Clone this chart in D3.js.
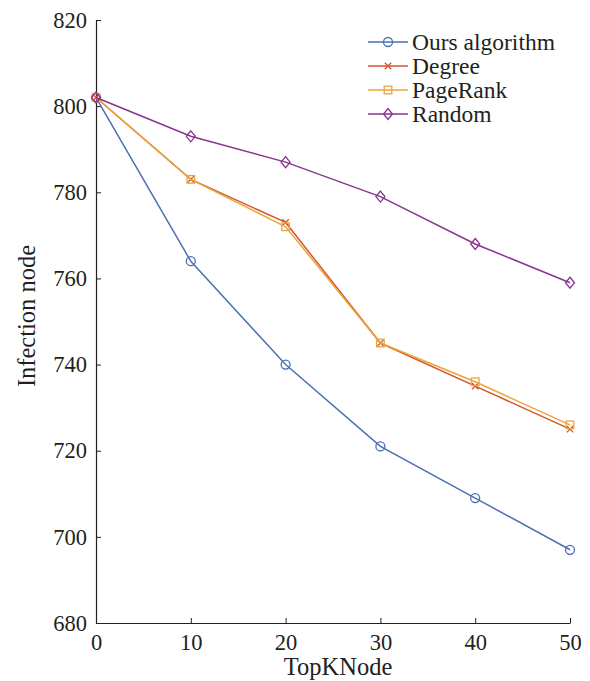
<!DOCTYPE html>
<html><head><meta charset="utf-8">
<script src="https://cdn.jsdelivr.net/npm/d3@7"></script>
<style>body{margin:0;background:#fff}svg{display:block}svg text{font-family:"Liberation Serif","Times New Roman",serif !important;fill:#231f20}</style>
</head><body><svg id="c" width="590" height="681"></svg>
<script>
const xValues = [0, 10, 20, 30, 40, 50];
const oursValues = [802, 764, 740, 721, 709, 697];
const degreeValues = [802, 783, 773, 745, 735, 725];
const pagerankValues = [802, 783, 772, 745, 736, 726];
const randomValues = [802, 793, 787, 779, 768, 759];
const seriesNames = ["Ours algorithm", "Degree", "PageRank", "Random"];
const xTicks = [0, 10, 20, 30, 40, 50];
const yTicks = [680, 700, 720, 740, 760, 780, 800, 820];

const series = [
  {name: seriesNames[0], values: oursValues, color: "#4a70b4", marker: "circle"},
  {name: seriesNames[1], values: degreeValues, color: "#d4552b", marker: "x"},
  {name: seriesNames[2], values: pagerankValues, color: "#eba53c", marker: "square"},
  {name: seriesNames[3], values: randomValues, color: "#88358f", marker: "diamond"}
];

const svg = d3.select("#c");
const L = 96, R = 570, T = 20, B = 623;
const x = d3.scaleLinear().domain([0, 50]).range([L, R]);
const y = d3.scaleLinear().domain([680, 820]).range([B, T]);

const axisColor = "#231f20";
const serif = "Liberation Serif, Times New Roman, serif";
const xAxis = svg.append("g").attr("transform", `translate(0,${B})`)
  .call(d3.axisBottom(x).tickValues(xTicks).tickSize(-5).tickPadding(8).tickSizeOuter(0));
const yAxis = svg.append("g").attr("transform", `translate(${L},0)`)
  .call(d3.axisLeft(y).tickValues(yTicks).tickSize(-5).tickPadding(8).tickSizeOuter(0));
[xAxis, yAxis].forEach(a => {
  a.attr("font-family", serif).attr("font-size", 22);
  a.select(".domain").attr("stroke", axisColor).attr("stroke-width", 1.2);
  a.selectAll(".tick line").attr("stroke", axisColor).attr("stroke-width", 1);
  a.selectAll(".tick text").attr("font-size", 22.5).attr("fill", axisColor).attr("font-family", serif);
});
xAxis.selectAll(".tick text").attr("dy", "0.85em");
yAxis.selectAll(".tick text").attr("dx", "-0.05em");

svg.append("text").attr("x", 338).attr("y", 675).attr("text-anchor", "middle")
  .attr("font-size", 24.5).text("TopKNode");
svg.append("text").attr("transform", `translate(35,316) rotate(-90)`)
  .attr("text-anchor", "middle").attr("font-size", 24.5).text("Infection node");

function drawMarker(g, type, cx, cy, color) {
  if (type === "circle") {
    g.append("circle").attr("cx", cx).attr("cy", cy).attr("r", 4.5)
      .attr("fill", "none").attr("stroke", color).attr("stroke-width", 1.3);
  } else if (type === "x") {
    const s = 3.2;
    g.append("path").attr("d", `M${cx - s},${cy - s}L${cx + s},${cy + s}M${cx - s},${cy + s}L${cx + s},${cy - s}`)
      .attr("stroke", color).attr("stroke-width", 1.3).attr("fill", "none");
  } else if (type === "square") {
    const s = 3.8;
    g.append("rect").attr("x", cx - s).attr("y", cy - s).attr("width", 2 * s).attr("height", 2 * s)
      .attr("fill", "none").attr("stroke", color).attr("stroke-width", 1.3);
  } else if (type === "diamond") {
    g.append("path").attr("d", `M${cx},${cy - 5.5}L${cx + 4.5},${cy}L${cx},${cy + 5.5}L${cx - 4.5},${cy}Z`)
      .attr("fill", "none").attr("stroke", color).attr("stroke-width", 1.3);
  }
}

const line = d3.line().x(d => x(d[0])).y(d => y(d[1]));
series.forEach(s => {
  const pts = xValues.map((v, i) => [v, s.values[i]]);
  const g = svg.append("g");
  g.append("path").datum(pts).attr("d", line).attr("fill", "none")
    .attr("stroke", s.color).attr("stroke-width", 1.5);
  pts.forEach(p => drawMarker(g, s.marker, x(p[0]), y(p[1]), s.color));
});

const lg = svg.append("g");
series.forEach((s, i) => {
  const yy = 42 + i * 24;
  lg.append("line").attr("x1", 368).attr("x2", 408).attr("y1", yy).attr("y2", yy)
    .attr("stroke", s.color).attr("stroke-width", 1.5);
  drawMarker(lg, s.marker, 388, yy, s.color);
  lg.append("text").attr("x", 412).attr("y", yy).attr("dy", "0.35em")
    .attr("font-size", 23.5).text(s.name);
});
</script></body></html>
